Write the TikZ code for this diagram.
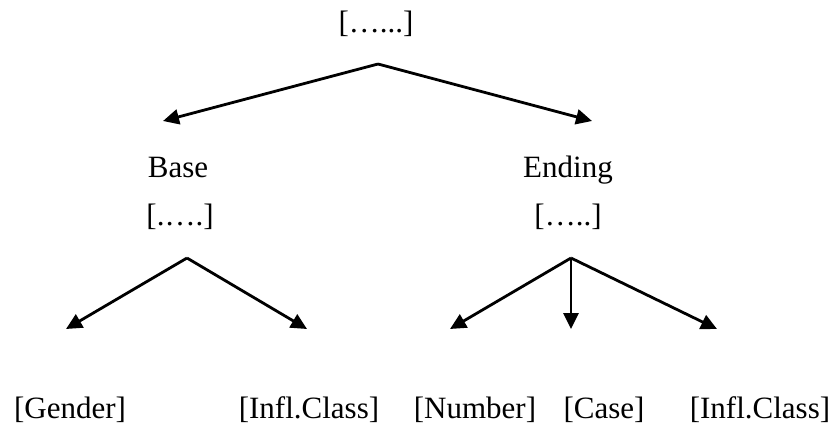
\documentclass[tikz,border=0pt]{standalone}
\usepackage{fontspec}
\setmainfont{Liberation Serif}
\usetikzlibrary{arrows.meta}
\begin{document}
\begin{tikzpicture}[x=1pt,y=-1pt,
  lbl/.style={font=\fontsize{31}{36}\selectfont, inner sep=0pt, anchor=base},
  arr/.style={line width=2.8pt, -{Triangle[length=16pt,width=15pt]}}]
\useasboundingbox (0,0) rectangle (834,428);
% labels
\node[lbl] (top) at (376,33) {[…...]};
\node[lbl] (base) at (178,177) {Base};
\node[lbl] (basev) at (180,225) {[.….]};
\node[lbl] (end) at (568,177) {Ending};
\node[lbl] (endv) at (568,225) {[…..]};
\node[lbl] (gen) at (70,418) {[Gender]};
\node[lbl] (icb) at (309,418) {[Infl.Class]};
\node[lbl] (num) at (475,418) {[Number]};
\node[lbl] (cas) at (604,418) {[Case]};
\node[lbl] (ice) at (760,418) {[Infl.Class]};
% branch points and arrow ends
\coordinate (r) at (378,64);
\coordinate (rl) at (163,121);
\coordinate (rr) at (592,121);
\coordinate (b) at (187,258);
\coordinate (bl) at (66,329);
\coordinate (br) at (307,329);
\coordinate (e) at (571,258);
\coordinate (el) at (450,329);
\coordinate (em) at (571,329);
\coordinate (er) at (717,329);
\draw[arr] (r) -- (rl);
\draw[arr] (r) -- (rr);
\draw[arr] (b) -- (bl);
\draw[arr] (b) -- (br);
\draw[arr] (e) -- (el);
\draw[arr] (e) -- (em);
\draw[arr] (e) -- (er);
\end{tikzpicture}
\end{document}
